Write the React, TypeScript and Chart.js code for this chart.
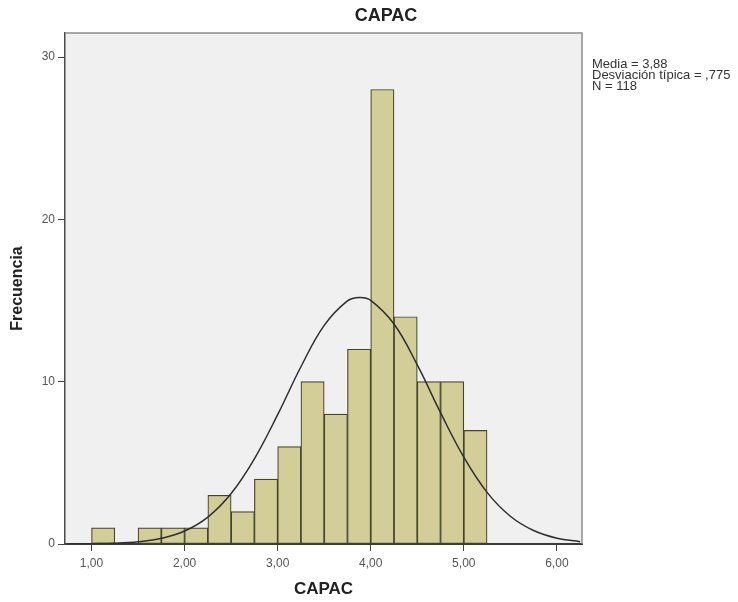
import React, { useEffect, useRef } from 'react';
import { Chart, registerables } from 'chart.js';

Chart.register(...registerables);

// ---- Text ----
const chartTitle = 'CAPAC';
const xAxisTitle = 'CAPAC';
const yAxisTitle = 'Frecuencia';
const statsLines = ['Media = 3,88', 'Desviación típica = ,775', 'N = 118'];

// ---- Histogram data (bin lower edge, width 0.25) ----
const binWidth = 0.25;
const binLower = [1.0, 1.25, 1.5, 1.75, 2.0, 2.25, 2.5, 2.75, 3.0, 3.25, 3.5, 3.75, 4.0, 4.25, 4.5, 4.75, 5.0];
const binCounts = [1, 0, 1, 1, 1, 3, 2, 4, 6, 10, 8, 12, 28, 14, 10, 10, 7];

// ---- Normal curve ----
const curveX = [0.75, 1.0, 1.25, 1.5, 1.75, 2.0, 2.25, 2.5, 2.75, 3.0, 3.25, 3.5, 3.75, 3.88, 4.0, 4.25, 4.5, 4.75, 5.0, 5.25, 5.5, 5.75, 6.0, 6.25];
const curveY = [0.0, 0.02, 0.05, 0.14, 0.35, 0.8, 1.66, 3.11, 5.25, 7.97, 10.92, 13.47, 14.98, 15.19, 15.01, 13.55, 11.03, 8.09, 5.35, 3.18, 1.71, 0.83, 0.36, 0.14];

// ---- Ticks ----
const xTickValues = [1, 2, 3, 4, 5, 6];
const xTickLabels = ['1,00', '2,00', '3,00', '4,00', '5,00', '6,00'];
const yTickValues = [0, 10, 20, 30];
const yTickLabels = ['0', '10', '20', '30'];

const FONT = '"Liberation Sans", Arial, Helvetica, sans-serif';

const decorPlugin = {
  id: 'decor',
  beforeDraw(chart: any) {
    const { ctx, chartArea } = chart;
    ctx.save();
    ctx.fillStyle = '#ffffff';
    ctx.fillRect(0, 0, chart.width, chart.height);
    ctx.fillStyle = '#f0f0f0';
    ctx.fillRect(chartArea.left, chartArea.top, chartArea.right - chartArea.left, chartArea.bottom - chartArea.top);
    ctx.restore();
  },
  afterDraw(chart: any) {
    const { ctx, chartArea } = chart;
    ctx.save();
    // frame top & right
    ctx.strokeStyle = '#8c8c8c';
    ctx.lineWidth = 1.5;
    ctx.beginPath();
    ctx.moveTo(chartArea.left, chartArea.top);
    ctx.lineTo(chartArea.right, chartArea.top);
    ctx.lineTo(chartArea.right, chartArea.bottom);
    ctx.stroke();
    // title
    ctx.fillStyle = '#222222';
    ctx.font = `bold 18px ${FONT}`;
    ctx.textAlign = 'center';
    ctx.textBaseline = 'alphabetic';
    ctx.fillText(chartTitle, 386, 21);
    // stats
    ctx.fillStyle = '#333333';
    ctx.font = `13px ${FONT}`;
    ctx.textAlign = 'left';
    statsLines.forEach((s, i) => ctx.fillText(s, 592, 68 + i * 11));
    ctx.restore();
  },
};

export default function App() {
  const ref = useRef<HTMLCanvasElement | null>(null);

  useEffect(() => {
    document.body.style.margin = '0';
    const canvas = ref.current;
    if (!canvas) return;
    const chart = new Chart(canvas, {
      type: 'bar',
      data: {
        datasets: [
          {
            type: 'line',
            data: curveX.map((x, i) => ({ x, y: curveY[i] })),
            borderColor: '#2e2e2e',
            borderWidth: 1.5,
            pointRadius: 0,
            tension: 0.4,
            fill: false,
            order: 0,
          } as any,
          {
            type: 'bar',
            data: binLower.map((b, i) => ({ x: b + binWidth / 2, y: binCounts[i] })),
            backgroundColor: '#d3ce97',
            borderColor: '#45452c',
            borderWidth: 1.2,
            borderSkipped: false,
            barPercentage: 1,
            categoryPercentage: 1,
            order: 1,
          } as any,
        ],
      },
      options: {
        responsive: false,
        devicePixelRatio: 1,
        animation: false,
        layout: { padding: { top: 33, right: 156, bottom: 0, left: 0 } },
        plugins: {
          legend: { display: false },
          tooltip: { enabled: false },
          title: { display: false },
        },
        scales: {
          x: {
            type: 'linear',
            min: 0.715,
            max: 6.27,
            offset: false,
            afterFit: (s: any) => { s.height = 58; },
            afterBuildTicks: (s: any) => { s.ticks = xTickValues.map((v) => ({ value: v })); },
            grid: { display: true, drawOnChartArea: false, drawTicks: true, tickLength: 7, tickColor: '#444444', offset: false },
            border: { display: true, color: '#3a3a3a', width: 2 },
            ticks: {
              includeBounds: false,
              padding: 5,
              color: '#555555',
              font: { family: FONT, size: 12 },
              maxRotation: 0,
              autoSkip: false,
              callback: (v: any) => {
                const i = xTickValues.indexOf(Number(v));
                return i >= 0 ? xTickLabels[i] : '';
              },
            },
            title: {
              display: true,
              text: xAxisTitle,
              color: '#222222',
              font: { family: FONT, size: 17, weight: 'bold' },
              padding: { top: 0, bottom: 2 },
            },
          },
          y: {
            type: 'linear',
            min: 0,
            max: 31.48,
            afterFit: (s: any) => { s.width = 65; },
            afterBuildTicks: (s: any) => { s.ticks = yTickValues.map((v) => ({ value: v })); },
            grid: { display: true, drawOnChartArea: false, drawTicks: true, tickLength: 7, tickColor: '#444444' },
            border: { display: true, color: '#4a4a4a', width: 1.5 },
            ticks: {
              includeBounds: false,
              padding: 3,
              color: '#555555',
              font: { family: FONT, size: 12 },
              autoSkip: false,
              callback: (v: any) => {
                const i = yTickValues.indexOf(Number(v));
                return i >= 0 ? yTickLabels[i] : '';
              },
            },
            title: {
              display: true,
              text: yAxisTitle,
              color: '#222222',
              font: { family: FONT, size: 16, weight: 'bold' },
              padding: { top: 8, bottom: 0 },
            },
          },
        },
      } as any,
      plugins: [decorPlugin],
    });
    return () => chart.destroy();
  }, []);

  return (
    <div style={{ width: 738, height: 602 }}>
      <canvas ref={ref} width={738} height={602} style={{ display: 'block', width: 738, height: 602 }} />
    </div>
  );
}
